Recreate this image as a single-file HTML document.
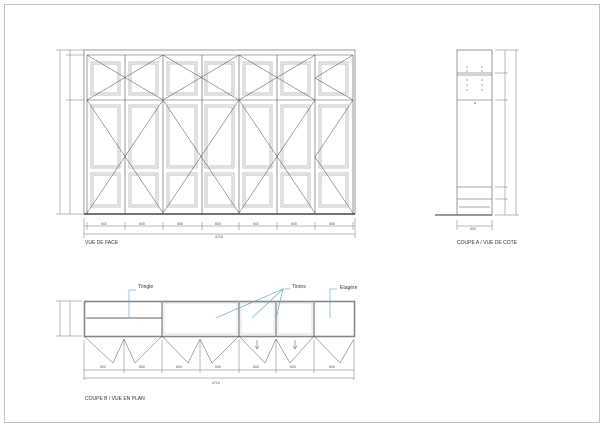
<!DOCTYPE html>
<html><head><meta charset="utf-8"><style>
html,body{margin:0;padding:0;background:#fff;}
svg{display:block;font-family:"Liberation Sans",sans-serif;}
</style></head><body>
<svg width="604" height="427" viewBox="0 0 604 427" xmlns="http://www.w3.org/2000/svg">
<rect x="4.5" y="4.5" width="595" height="418" fill="none" stroke="#999" stroke-width="0.6"/>
<g stroke="#555" fill="none" stroke-width="0.6">
<!-- FRONT VIEW -->
<rect x="84" y="50" width="271" height="164"/>
<line x1="87" y1="55" x2="353" y2="55"/>
<line x1="87" y1="55" x2="87" y2="214"/><line x1="353" y1="55" x2="353" y2="214"/>
<line x1="87" y1="100" x2="353" y2="100"/>
<g>
<line x1="125" y1="55" x2="125" y2="214"/><line x1="163" y1="55" x2="163" y2="214"/>
<line x1="202" y1="55" x2="202" y2="214"/><line x1="239" y1="55" x2="239" y2="214"/>
<line x1="277" y1="55" x2="277" y2="214"/><line x1="315" y1="55" x2="315" y2="214"/>
</g>
<g stroke="#999">
<rect x="91" y="62" width="29" height="33"/><rect x="93" y="64" width="25" height="29"/>
<rect x="129" y="62" width="29" height="33"/><rect x="131" y="64" width="25" height="29"/>
<rect x="167" y="62" width="30" height="33"/><rect x="169" y="64" width="26" height="29"/>
<rect x="205" y="62" width="29" height="33"/><rect x="207" y="64" width="25" height="29"/>
<rect x="243" y="62" width="29" height="33"/><rect x="245" y="64" width="25" height="29"/>
<rect x="281" y="62" width="29" height="33"/><rect x="283" y="64" width="25" height="29"/>
<rect x="319" y="62" width="29" height="33"/><rect x="321" y="64" width="25" height="29"/>

<rect x="91" y="105" width="29" height="63"/><rect x="93" y="107" width="25" height="59"/>
<rect x="129" y="105" width="29" height="63"/><rect x="131" y="107" width="25" height="59"/>
<rect x="167" y="105" width="30" height="63"/><rect x="169" y="107" width="26" height="59"/>
<rect x="205" y="105" width="29" height="63"/><rect x="207" y="107" width="25" height="59"/>
<rect x="243" y="105" width="29" height="63"/><rect x="245" y="107" width="25" height="59"/>
<rect x="281" y="105" width="29" height="63"/><rect x="283" y="107" width="25" height="59"/>
<rect x="319" y="105" width="29" height="63"/><rect x="321" y="107" width="25" height="59"/>

<rect x="91" y="173" width="29" height="34"/><rect x="93" y="175" width="25" height="30"/>
<rect x="129" y="173" width="29" height="34"/><rect x="131" y="175" width="25" height="30"/>
<rect x="167" y="173" width="30" height="34"/><rect x="169" y="175" width="26" height="30"/>
<rect x="205" y="173" width="29" height="34"/><rect x="207" y="175" width="25" height="30"/>
<rect x="243" y="173" width="29" height="34"/><rect x="245" y="175" width="25" height="30"/>
<rect x="281" y="173" width="29" height="34"/><rect x="283" y="175" width="25" height="30"/>
<rect x="319" y="173" width="29" height="34"/><rect x="321" y="175" width="25" height="30"/>
</g>
<g stroke="#444" stroke-width="0.5">
<line x1="87" y1="55" x2="163" y2="100"/><line x1="87" y1="100" x2="163" y2="55"/>
<line x1="163" y1="55" x2="239" y2="100"/><line x1="163" y1="100" x2="239" y2="55"/>
<line x1="239" y1="55" x2="315" y2="100"/><line x1="239" y1="100" x2="315" y2="55"/>
<polyline points="353,55 315,78 353,100"/>
<line x1="87" y1="100" x2="163" y2="213"/><line x1="163" y1="100" x2="87" y2="213"/>
<line x1="163" y1="100" x2="239" y2="213"/><line x1="239" y1="100" x2="163" y2="213"/>
<line x1="239" y1="100" x2="315" y2="213"/><line x1="315" y1="100" x2="239" y2="213"/>
<polyline points="353,100 315,157 353,213"/>
</g>
<line x1="84" y1="214" x2="355" y2="214" stroke="#222" stroke-width="1.3"/>
<g stroke="#777" stroke-width="0.5">
<line x1="60" y1="50" x2="60" y2="214"/><line x1="70" y1="50" x2="70" y2="214"/>
<line x1="56" y1="50" x2="84" y2="50"/><line x1="66" y1="55" x2="84" y2="55"/>
<line x1="66" y1="100" x2="84" y2="100"/><line x1="56" y1="214" x2="84" y2="214"/>
<line x1="84" y1="226" x2="355" y2="226"/><line x1="84" y1="234" x2="355" y2="234"/>
<line x1="84" y1="218" x2="84" y2="238"/><line x1="355" y1="218" x2="355" y2="238"/>
<line x1="87" y1="222" x2="87" y2="230"/><line x1="125" y1="222" x2="125" y2="230"/>
<line x1="163" y1="222" x2="163" y2="230"/><line x1="202" y1="222" x2="202" y2="230"/>
<line x1="239" y1="222" x2="239" y2="230"/><line x1="277" y1="222" x2="277" y2="230"/>
<line x1="315" y1="222" x2="315" y2="230"/><line x1="353" y1="222" x2="353" y2="230"/>
</g>
<!-- SIDE VIEW -->
<rect x="457" y="50" width="35" height="165"/>
<line x1="457" y1="73" x2="492" y2="73"/><line x1="457" y1="75" x2="492" y2="75"/>
<line x1="457" y1="100" x2="492" y2="100"/>
<line x1="457" y1="187" x2="492" y2="187"/><line x1="457" y1="199" x2="492" y2="199"/>
<line x1="459" y1="207" x2="490" y2="207"/>
<line x1="435" y1="215" x2="492" y2="215" stroke="#333" stroke-width="0.9"/>
<g stroke="#777" stroke-width="0.5">
<line x1="505" y1="50" x2="505" y2="215"/><line x1="516" y1="50" x2="516" y2="215"/>
<line x1="495" y1="73" x2="508" y2="73"/><line x1="495" y1="100" x2="508" y2="100"/>
<line x1="495" y1="187" x2="508" y2="187"/><line x1="495" y1="199" x2="508" y2="199"/>
<line x1="495" y1="215" x2="519" y2="215"/><line x1="495" y1="50" x2="519" y2="50"/>
<line x1="457" y1="226" x2="492" y2="226"/><line x1="457" y1="220" x2="457" y2="230"/><line x1="492" y1="220" x2="492" y2="230"/>
</g>
<g fill="#666" stroke="none">
<circle cx="467" cy="67" r="0.6"/><circle cx="482" cy="67" r="0.6"/><circle cx="467" cy="71" r="0.6"/><circle cx="482" cy="71" r="0.6"/>
<circle cx="467" cy="80" r="0.6"/><circle cx="482" cy="80" r="0.6"/><circle cx="467" cy="85" r="0.6"/><circle cx="482" cy="85" r="0.6"/>
<circle cx="467" cy="90" r="0.6"/><circle cx="482" cy="90" r="0.6"/><circle cx="475" cy="103" r="0.8"/>
</g>
<!-- PLAN VIEW -->
<rect x="84.5" y="301.5" width="270" height="35" stroke="#888" stroke-width="1.6"/>
<g stroke="#999" stroke-width="1.6">
<line x1="162" y1="301" x2="162" y2="336"/><line x1="239" y1="301" x2="239" y2="336"/>
<line x1="276" y1="301" x2="276" y2="336"/><line x1="314" y1="301" x2="314" y2="336"/>
</g>
<rect x="164" y="303" width="73" height="31" stroke="#ccc"/>
<rect x="241" y="303" width="33" height="31" stroke="#ccc"/>
<rect x="278" y="303" width="34" height="31" stroke="#ccc"/>
<line x1="86" y1="318" x2="162" y2="318" stroke="#666" stroke-width="1"/>
<g stroke="#555" stroke-width="0.5">
<polyline points="84,336 113,363 124,339"/><polyline points="124,339 135,363 162,336"/>
<polyline points="162,336 188,363 200,339"/><polyline points="200,339 212,363 239,336"/>
<polyline points="239,336 265,363 276,339"/><polyline points="276,339 290,363 314,336"/>
<polyline points="314,336 340,363 354,339"/>
<line x1="257" y1="340" x2="257" y2="348"/><polyline points="255,346 257,349 259,346"/>
<line x1="295" y1="340" x2="295" y2="348"/><polyline points="293,346 295,349 297,346"/>
</g>
<g stroke="#777" stroke-width="0.5">
<line x1="84" y1="340" x2="84" y2="380"/><line x1="354" y1="340" x2="354" y2="380"/>
<line x1="84" y1="370" x2="354" y2="370"/><line x1="84" y1="378" x2="354" y2="378"/>
<line x1="124" y1="340" x2="124" y2="373"/><line x1="162" y1="340" x2="162" y2="373"/>
<line x1="200" y1="340" x2="200" y2="373"/><line x1="239" y1="340" x2="239" y2="373"/>
<line x1="276" y1="340" x2="276" y2="373"/><line x1="314" y1="340" x2="314" y2="373"/>
<line x1="60" y1="301" x2="60" y2="336"/><line x1="70" y1="301" x2="70" y2="336"/>
<line x1="56" y1="301" x2="82" y2="301"/><line x1="56" y1="336" x2="82" y2="336"/>
</g>
<g stroke="#5aa0d0" stroke-width="0.6">
<line x1="129" y1="290" x2="129" y2="318"/><line x1="129" y1="290" x2="136" y2="290"/>
<line x1="216" y1="318" x2="283" y2="289"/><line x1="252" y1="318" x2="283" y2="289"/>
<line x1="276" y1="318" x2="283" y2="289"/><line x1="283" y1="289" x2="290" y2="289"/>
<line x1="330" y1="318" x2="330" y2="289"/><line x1="330" y1="289" x2="337" y2="289"/>
</g>
</g>
<g fill="#333" font-size="4.5">
<text x="85" y="244" font-size="5">VUE DE FACE</text>
<text x="457" y="244" font-size="5">COUPE A / VUE DE COTE</text>
<text x="85" y="400" font-size="5">COUPE B / VUE EN PLAN</text>
<text x="138" y="288" font-size="5">Tringle</text>
<text x="292" y="288" font-size="5">Tiroirs</text>
<text x="340" y="289" font-size="5">Etagère</text>
<g font-size="3.5" fill="#555">
<text x="101" y="225">600</text><text x="139" y="225">600</text><text x="177" y="225">600</text>
<text x="215" y="225">600</text><text x="253" y="225">600</text><text x="291" y="225">600</text><text x="329" y="225">600</text>
<text x="215" y="238">4715</text>
<text x="470" y="230">600</text>
<text x="100" y="368">600</text><text x="139" y="368">600</text><text x="176" y="368">600</text><text x="215" y="368">600</text>
<text x="253" y="368">600</text><text x="290" y="368">600</text><text x="329" y="368">600</text>
<text x="212" y="384">4715</text>
</g>
</g>
</svg>
</body></html>
